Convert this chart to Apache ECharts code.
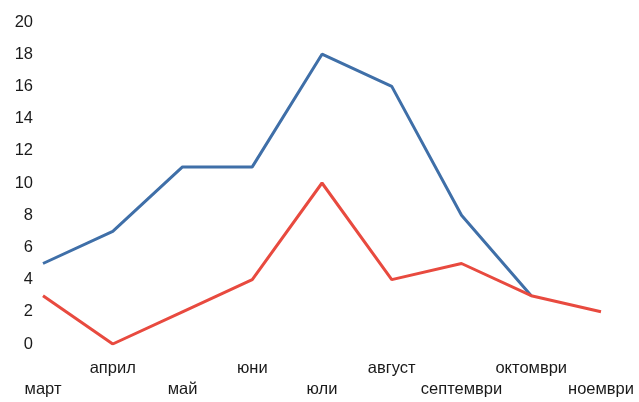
<!DOCTYPE html>
<html><head><meta charset="utf-8">
<script src="https://cdn.jsdelivr.net/npm/echarts@6/dist/echarts.min.js"></script>
<style>html,body{margin:0;padding:0;background:#fff}#c{width:639px;height:402px}</style>
</head><body><div id="c"></div>
<script>
const categories = ['март','април','май','юни','юли','август','септември','октомври','ноември'];
const blueValues = [5, 7, 11, 11, 18, 16, 8, 3, null];
const redValues = [3, 0, 2, 4, 10, 4, 5, 3, 2];
const yTicks = [0, 2, 4, 6, 8, 10, 12, 14, 16, 18, 20];

const chart = echarts.init(document.getElementById('c'));
chart.setOption({
  backgroundColor: '#fff',
  animation: false,
  grid: {left: 43, right: 38, top: 22, bottom: 58},
  xAxis: {
    type: 'category', data: categories, boundaryGap: false,
    axisLine: {show: false}, axisTick: {show: false}, splitLine: {show: false},
    axisLabel: {
      interval: 0, margin: 14, fontSize: 16.5, lineHeight: 21, color: '#1a1a1a',
      fontFamily: 'Liberation Sans',
      formatter: (v, i) => (i % 2 === 0 ? '\n' + v : v + '\n')
    }
  },
  yAxis: {
    type: 'value', min: yTicks[0], max: yTicks[yTicks.length - 1], interval: 2,
    axisLine: {show: false}, axisTick: {show: false}, splitLine: {show: false},
    axisLabel: {margin: 10, fontSize: 16.5, color: '#1a1a1a', fontFamily: 'Liberation Sans'}
  },
  series: [
    {type: 'line', data: blueValues, symbol: 'none', lineStyle: {color: '#3f6fa8', width: 3}, z: 2},
    {type: 'line', data: redValues, symbol: 'none', lineStyle: {color: '#e84a3f', width: 3}, z: 3}
  ]
});
</script></body></html>
